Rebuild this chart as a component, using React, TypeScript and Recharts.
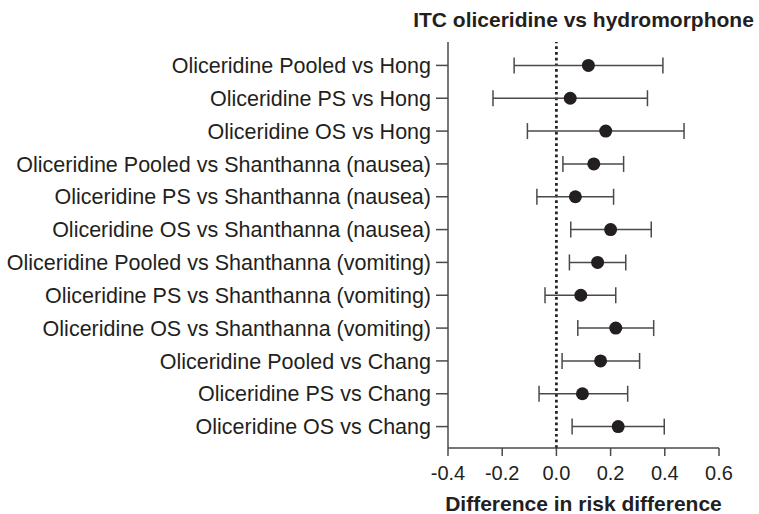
import React from 'react';
import {
  ScatterChart,
  Scatter,
  XAxis,
  YAxis,
  ErrorBar,
  ReferenceLine,
} from 'recharts';

const comparisons = [
  'Oliceridine Pooled vs Hong',
  'Oliceridine PS vs Hong',
  'Oliceridine OS vs Hong',
  'Oliceridine Pooled vs Shanthanna (nausea)',
  'Oliceridine PS vs Shanthanna (nausea)',
  'Oliceridine OS vs Shanthanna (nausea)',
  'Oliceridine Pooled vs Shanthanna (vomiting)',
  'Oliceridine PS vs Shanthanna (vomiting)',
  'Oliceridine OS vs Shanthanna (vomiting)',
  'Oliceridine Pooled vs Chang',
  'Oliceridine PS vs Chang',
  'Oliceridine OS vs Chang',
];

const estimates = [0.118, 0.051, 0.182, 0.138, 0.07, 0.2, 0.152, 0.09, 0.219, 0.163, 0.096, 0.228];
const lowerCI = [-0.156, -0.234, -0.107, 0.024, -0.072, 0.053, 0.048, -0.042, 0.079, 0.021, -0.064, 0.058];
const upperCI = [0.393, 0.336, 0.471, 0.248, 0.211, 0.35, 0.256, 0.219, 0.359, 0.307, 0.263, 0.398];

const xTicks = [-0.4, -0.2, 0, 0.2, 0.4, 0.6];

const chartTitle = 'ITC oliceridine vs hydromorphone';
const xTitle = 'Difference in risk difference';

const data = comparisons.map((name, i) => ({
  name,
  est: estimates[i],
  err: [estimates[i] - lowerCI[i], upperCI[i] - estimates[i]],
}));

const FONT = '"Liberation Sans", Arial, Helvetica, sans-serif';
const INK = '#231f20';
const AXIS = '#4a4a4a';

const Dot = (props: any) => {
  const { cx, cy } = props;
  if (cx == null || cy == null) return null;
  return <circle cx={cx} cy={cy} r={6.5} fill={INK} />;
};

export default function App() {
  return (
    <div style={{ position: 'absolute', left: 0, top: 0, width: 759, height: 514, background: '#fff' }}>
      <ScatterChart
        width={759}
        height={514}
        margin={{ top: 42, right: 40, bottom: 36, left: 0 }}
      >
        <XAxis
          type="number"
          dataKey="est"
          domain={[-0.4, 0.6]}
          ticks={xTicks}
          tickFormatter={(v: number) => v.toFixed(1)}
          height={30}
          tickSize={8}
          tickMargin={10}
          allowDataOverflow
          axisLine={{ stroke: AXIS, strokeWidth: 1.5 }}
          tickLine={{ stroke: AXIS, strokeWidth: 1.5 }}
          tick={{ fill: INK, fontSize: 20, fontFamily: FONT }}
        />
        <YAxis
          type="category"
          dataKey="name"
          reversed
          width={448}
          padding={{ top: 7, bottom: 5 }}
          tickSize={12}
          tickMargin={5}
          interval={0}
          axisLine={{ stroke: AXIS, strokeWidth: 1.5 }}
          tickLine={{ stroke: AXIS, strokeWidth: 1.5 }}
          tick={{ fill: INK, fontSize: 21.5, fontFamily: FONT }}
        />
        <ReferenceLine
          x={0}
          stroke={INK}
          strokeWidth={2.7}
          strokeDasharray="2.7 3"
          ifOverflow="extendDomain"
        />
        <Scatter data={data} isAnimationActive={false} shape={<Dot />}>
          <ErrorBar
            dataKey="err"
            direction="x"
            width={8}
            stroke={AXIS}
            strokeWidth={1.5}
            isAnimationActive={false}
          />
        </Scatter>
      </ScatterChart>
      <svg
        width={759}
        height={514}
        style={{ position: 'absolute', left: 0, top: 0, pointerEvents: 'none' }}
      >
        <text
          x={583.5}
          y={27}
          textAnchor="middle"
          fontFamily={FONT}
          fontWeight="bold"
          fontSize={21}
          fill={INK}
        >
          {chartTitle}
        </text>
        <text
          x={583.5}
          y={511}
          textAnchor="middle"
          fontFamily={FONT}
          fontWeight="bold"
          fontSize={21}
          fill={INK}
        >
          {xTitle}
        </text>
      </svg>
    </div>
  );
}
